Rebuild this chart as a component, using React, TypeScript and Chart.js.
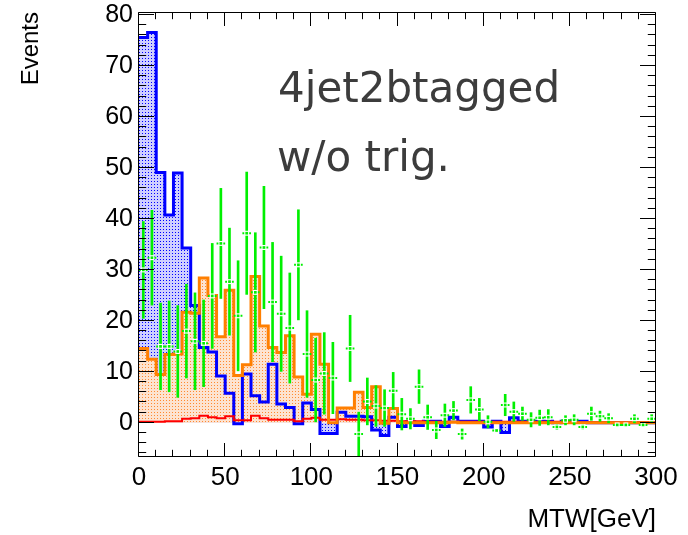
import React, { useEffect, useRef } from "react";
import { Chart, registerables } from "chart.js";

Chart.register(...registerables);

// ---- binning / axes ----
const BIN_WIDTH = 5; // GeV
const X_MIN = 0;
const X_MAX = 300;
const Y_MIN = -6.7;
const Y_MAX = 80.6;
const xTickLabels = [0, 50, 100, 150, 200, 250, 300];
const yTickLabels = [0, 10, 20, 30, 40, 50, 60, 70, 80];

// ---- histogram contents (60 bins of 5 GeV) ----
const blueHist = [
  75.6, 76.6, 49.1, 40.8, 49.0, 34.3, 23.0, 14.8, 13.9, 9.2,
  5.8, -0.2, 9.6, 5.3, 4.1, 11.5, 3.7, 3.0, -0.2, 3.9,
  2.6, -2.1, -2.1, 2.1, 1.3, 1.3, 1.2, -1.4, -2.5, 1.1,
  -0.7, 0.2, -0.5, 0.3, 0.3, -0.7, 1.1, 0.3, 0.3, 0.3,
  -0.8, 0.3, -1.9, 1.0, 0.3, 0.3, 0.3, 0.3, 0.0, 0.3,
  0.3, 0.3, 0.0, 0.0, 0.0, 0.0, 0.0, 0.0, 0.0, 0.0,
];

const orangeHist = [
  14.6, 12.5, 9.5, 13.4, 13.5, 21.7, 21.5, 28.4, 25.0, 16.9,
  26.0, 9.3, 11.4, 28.7, 19.0, 14.8, 13.8, 17.1, 9.0, 5.6,
  17.4, 11.5, 0.0, 2.9, 2.9, 6.0, 3.0, 7.1, -0.1, 2.8,
  0.0, 0.0, 0.0, 0.0, 0.0, 0.0, 0.1, 0.0, 0.0, 0.0,
  0.0, 0.0, 0.0, 0.0, 0.0, 0.0, 0.0, 0.0, 0.0, 0.0,
  0.0, 0.0, 0.0, 0.0, 0.0, 0.0, 0.0, 0.0, 0.0, 0.0,
];

const redHist = [
  0.2, 0.2, 0.2, 0.3, 0.3, 0.8, 0.9, 1.4, 1.1, 0.9,
  1.3, 0.5, 0.5, 1.4, 0.9, 0.6, 0.6, 0.6, 0.3, 0.8,
  1.0, 0.6, 0.6, 0.7, 0.6, 0.6, 0.5, 0.5, 0.4, 0.4,
  0.3, 0.3, 0.3, 0.2, 0.2, 0.2, 0.2, 0.2, 0.2, 0.2,
  0.2, 0.2, 0.2, 0.2, 0.2, 0.2, 0.2, 0.2, 0.2, 0.2,
  0.1, 0.1, 0.1, 0.1, 0.1, 0.1, 0.1, 0.1, 0.1, 0.1,
];

// ---- data points (null = empty bin) ----
const dataValues = [
  30.0, 32.4, 15.0, 15.0, 14.0, 18.0, 16.0, 15.6, 24.9, 35.2,
  27.7, 21.0, 37.2, 25.6, 34.4, 23.7, 21.4, 18.6, 31.0, 13.5,
  8.4, 9.7, 8.8, null, 14.6, -2.2, 4.2, 3.3, 2.9, 6.3,
  1.7, 0.8, 7.1, 1.1, -1.4, 1.5, 2.4, -2.2, 4.5, 2.6,
  0.2, -1.5, 3.5, 2.2, 1.8, 0.6, 1.0, 1.1, -0.8, 0.5,
  0.6, -0.8, 1.8, 1.3, 0.9, -0.4, -0.4, 0.8, -0.4, 0.8,
];

const dataErrors = [
  9.5, 9.3, 8.5, 8.9, 9.0, 9.2, 9.5, 8.5, 10.3, 10.8,
  10.5, 10.8, 12.0, 11.7, 12.0, 11.7, 11.3, 10.8, 10.8, 8.5,
  8.2, 8.0, 7.0, null, 6.5, 4.3, 4.6, 4.0, 3.6, 3.6,
  3.1, 2.0, 3.3, 2.4, 1.7, 2.2, 1.8, 1.0, 2.6, 2.2,
  1.2, 0.4, 2.1, 1.9, 1.3, 1.4, 1.5, 1.5, 0.5, 0.9,
  1.0, 0.4, 1.3, 1.0, 0.9, 0.3, 0.3, 0.8, 0.3, 0.8,
];

const annotationLines = ["4jet2btagged", "w/o trig."];

// ---- helpers building library datasets ----
function histPoints(vals: number[]) {
  const pts = vals.map((v, i) => ({ x: X_MIN + i * BIN_WIDTH, y: v }));
  pts.push({ x: X_MIN + vals.length * BIN_WIDTH, y: vals[vals.length - 1] });
  return pts;
}

function binCenter(i: number) {
  return X_MIN + (i + 0.5) * BIN_WIDTH;
}

function makePattern(dot: string, wash: string) {
  const tile = document.createElement("canvas");
  tile.width = 3;
  tile.height = 3;
  const c = tile.getContext("2d")!;
  c.fillStyle = wash;
  c.fillRect(0, 0, 3, 3);
  c.fillStyle = dot;
  c.fillRect(1, 1, 1, 1);
  const main = document.createElement("canvas").getContext("2d")!;
  return main.createPattern(tile, "repeat")!;
}

const GREEN = "#00f000";
const BLUE = "#0000ff";
const ORANGE = "#ff7f00";
const RED = "#ff0000";
const LABEL_FONT = "Liberation Sans";

const rootFrame = {
  id: "rootFrame",
  afterDatasetsDraw(chart: any) {
    const { ctx, chartArea: a, scales } = chart;
    const xs = scales.x;
    const ys = scales.y;
    ctx.save();
    ctx.strokeStyle = "#000";
    ctx.lineWidth = 1;
    const L = Math.round(a.left) - 0.5;
    const R = Math.round(a.right) - 0.5;
    const T = Math.round(a.top) + 0.5;
    const B = Math.round(a.bottom) - 0.5;
    ctx.beginPath();
    ctx.rect(L, T, R - L, B - T);
    for (let v = X_MIN; v <= X_MAX; v += 10) {
      const px = Math.round(xs.getPixelForValue(v)) - 0.5;
      const len = v % 50 === 0 ? 13.5 : 6.7;
      ctx.moveTo(px, B);
      ctx.lineTo(px, B - len);
      ctx.moveTo(px, T);
      ctx.lineTo(px, T + len);
    }
    for (let v = -6; v <= 80; v += 2) {
      const py = Math.round(ys.getPixelForValue(v)) - 0.5;
      const len = v % 10 === 0 ? 15.5 : 7.7;
      ctx.moveTo(L, py);
      ctx.lineTo(L + len, py);
      ctx.moveTo(R, py);
      ctx.lineTo(R - len, py);
    }
    ctx.stroke();
    ctx.restore();
  },
  afterDraw(chart: any) {
    const { ctx, chartArea: a } = chart;
    ctx.save();
    ctx.fillStyle = "#3c3c3c";
    ctx.font = '42px "DejaVu Sans"';
    ctx.textAlign = "left";
    ctx.textBaseline = "alphabetic";
    ctx.fillText(annotationLines[0], a.left + 139, a.top + 90);
    ctx.fillText(annotationLines[1], a.left + 138, a.top + 159);
    ctx.restore();
  },
};

export default function App() {
  const canvasRef = useRef<HTMLCanvasElement>(null);

  useEffect(() => {
    const canvas = canvasRef.current!;
    const bluePattern = makePattern(BLUE, "rgba(110,110,255,0.33)");
    const orangePattern = makePattern("#ff8a30", "#fde3d0");

    const pts: { x: number; y: number; e: number }[] = [];
    dataValues.forEach((v, i) => {
      if (v === null || dataErrors[i] === null) return;
      pts.push({ x: binCenter(i), y: v as number, e: dataErrors[i] as number });
    });

    const vBars = pts.map((p) => ({ x: p.x, y: [p.y - p.e, p.y + p.e] }));
    const hBars: any[] = [];
    pts.forEach((p) => {
      hBars.push({ x: p.x - BIN_WIDTH / 2, y: p.y });
      hBars.push({ x: p.x + BIN_WIDTH / 2, y: p.y });
      hBars.push({ x: p.x + BIN_WIDTH / 2, y: null });
    });
    const markers = pts.map((p) => ({ x: p.x, y: p.y }));

    const lineBase = { type: "line", pointRadius: 0, borderCapStyle: "butt", borderJoinStyle: "miter" };

    const chart = new Chart(canvas, {
      type: "line",
      data: {
        datasets: [
          {
            ...lineBase,
            label: "data",
            data: markers,
            showLine: false,
            pointStyle: "rect",
            pointRadius: 1.9,
            pointBackgroundColor: GREEN,
            pointBorderWidth: 0,
            order: 1,
          },
          {
            ...lineBase,
            label: "gap",
            data: markers,
            showLine: false,
            pointStyle: "rect",
            pointRadius: 3.5,
            pointBackgroundColor: "#ffffff",
            pointBorderWidth: 0,
            order: 2,
          },
          {
            ...lineBase,
            label: "xerr",
            data: hBars,
            borderColor: GREEN,
            borderWidth: 2,
            spanGaps: false,
            fill: false,
            order: 3,
          },
          {
            type: "bar",
            label: "yerr",
            data: vBars as any,
            backgroundColor: GREEN,
            borderWidth: 0,
            barThickness: 2,
            grouped: false,
            order: 4,
          } as any,
          {
            ...lineBase,
            label: "orange line",
            data: histPoints(orangeHist),
            stepped: "before",
            borderColor: ORANGE,
            borderWidth: 3,
            fill: false,
            order: 5,
          },
          {
            ...lineBase,
            label: "red line",
            data: histPoints(redHist),
            stepped: "before",
            borderColor: RED,
            borderWidth: 2,
            fill: false,
            order: 6,
          },
          {
            ...lineBase,
            label: "blue line",
            data: histPoints(blueHist),
            stepped: "before",
            borderColor: BLUE,
            borderWidth: 3,
            fill: false,
            order: 7,
          },
          {
            ...lineBase,
            label: "orange fill",
            data: histPoints(orangeHist),
            stepped: "before",
            borderWidth: 0,
            borderColor: "rgba(0,0,0,0)",
            fill: "origin",
            backgroundColor: orangePattern as any,
            order: 8,
          },
          {
            ...lineBase,
            label: "blue fill",
            data: histPoints(blueHist),
            stepped: "before",
            borderWidth: 0,
            borderColor: "rgba(0,0,0,0)",
            fill: "origin",
            backgroundColor: bluePattern as any,
            order: 9,
          },
        ],
      },
      options: {
        animation: false,
        responsive: false,
        maintainAspectRatio: false,
        events: [],
        layout: { padding: { top: 12, right: 32, left: 0, bottom: 0 } },
        plugins: { legend: { display: false }, tooltip: { enabled: false } },
        scales: {
          x: {
            type: "linear",
            min: X_MIN,
            max: X_MAX,
            offset: false,
            afterBuildTicks: (s: any) => {
              s.ticks = xTickLabels.map((v) => ({ value: v }));
            },
            afterFit: (s: any) => {
              s.height = 78;
              s.paddingLeft = 0;
              s.paddingRight = 0;
            },
            grid: { display: false, drawTicks: false },
            border: { display: false },
            ticks: {
              color: "#000",
              font: { family: LABEL_FONT, size: 26 },
              padding: 5,
              maxRotation: 0,
              autoSkip: false,
            },
            title: {
              display: true,
              text: "MTW[GeV]",
              align: "end",
              color: "#000",
              font: { family: LABEL_FONT, size: 26 },
              padding: { top: 0, bottom: 0 },
            },
          },
          y: {
            type: "linear",
            min: Y_MIN,
            max: Y_MAX,
            afterBuildTicks: (s: any) => {
              s.ticks = yTickLabels.map((v) => ({ value: v }));
            },
            afterFit: (s: any) => {
              s.width = 139;
              s.paddingTop = 0;
              s.paddingBottom = 0;
            },
            grid: { display: false, drawTicks: false },
            border: { display: false },
            ticks: {
              color: "#000",
              font: { family: LABEL_FONT, size: 25 },
              padding: 6,
              autoSkip: false,
            },
            title: {
              display: true,
              text: "Events",
              align: "end",
              color: "#000",
              font: { family: LABEL_FONT, size: 24 },
              padding: { top: 17, bottom: 0 },
            },
          },
        },
      },
      plugins: [rootFrame],
    } as any);

    return () => chart.destroy();
  }, []);

  return (
    <div style={{ position: "fixed", left: 0, top: 0, width: 688, height: 535, background: "#fff" }}>
      <canvas ref={canvasRef} width={688} height={535} style={{ width: 688, height: 535 }} />
    </div>
  );
}
